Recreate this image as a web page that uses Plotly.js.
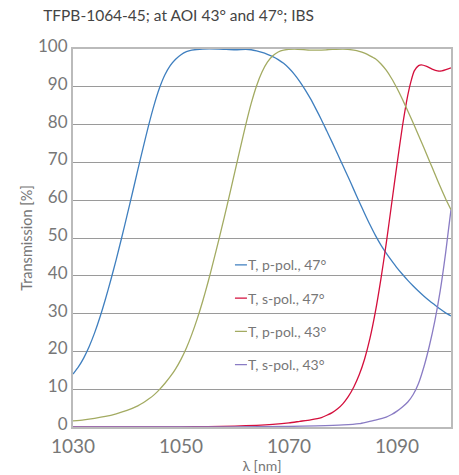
<!DOCTYPE html>
<html><head><meta charset="utf-8">
<script src="https://cdn.plot.ly/plotly-3.0.1.min.js"></script>
<style>body{margin:0;background:#fff}#c{width:459px;height:475px}</style>
</head><body><div id="c"></div>
<script>
const bluePpol47X = [1030,1031,1032,1033,1034,1035,1036,1037,1038,1039,1040,1041,1042,1043,1044,1045,1046,1047,1048,1049,1050,1051,1052,1054,1057,1060,1062,1063,1064,1065,1066,1067,1068,1069,1070,1071,1072,1073,1074,1075,1076,1077,1078,1079,1080,1081,1082,1083,1084,1085,1086,1087,1088,1089,1090,1091,1092,1093,1094,1095,1096,1097,1098,1099,1100];
const bluePpol47Y = [14,15.9,18.3,21.3,24.9,29.1,33.8,38.9,44.3,50,55.9,61.9,68,74,79.8,85.1,89.6,93.1,95.6,97.3,98.5,99.3,99.7,100,100,99.8,99.9,99.8,99.5,99.1,98.6,98,97.2,96.2,94.9,93.3,91.4,89.2,86.8,84.1,81.3,78.3,75.3,72.2,69.1,66,62.8,59.6,56.5,53.5,50.7,48.2,46,44,42.1,40.4,38.8,37.3,35.9,34.6,33.4,32.3,31.2,30.2,29.4];
const redSpol47X = [1030,1040,1050,1055,1060,1064,1067,1070,1072,1074,1076,1077,1078,1079,1080,1081,1082,1083,1084,1085,1086,1087,1088,1089,1090,1091,1092,1092.6,1093.2,1094,1094.5,1095.5,1096.5,1097.5,1098.3,1099.2,1100];
const redSpol47Y = [0,0,0.05,0.1,0.25,0.45,0.7,1.1,1.5,1.9,2.5,3.1,3.8,4.8,6.2,8.1,10.6,13.8,18,23.5,30.5,39,48.5,59,69.5,79.5,87.8,91.5,94.2,95.6,95.8,95.4,94.7,94.2,94.2,94.6,95];
const greenPpol43X = [1030,1032,1034,1036,1038,1040,1042,1043,1044,1045,1046,1047,1048,1049,1050,1051,1052,1053,1054,1055,1056,1057,1058,1059,1060,1061,1062,1063,1064,1065,1066,1067,1068,1069,1071,1074,1077,1080,1082,1083,1084,1085,1086,1087,1088,1089,1090,1091,1092,1093,1094,1095,1096,1097,1098,1099,1100];
const greenPpol43Y = [1.6,1.9,2.3,2.8,3.5,4.4,5.6,6.4,7.4,8.5,9.9,11.5,13.3,15.4,17.9,20.9,24.5,28.6,33.2,38.3,43.8,49.5,55.4,61.5,67.7,73.9,80,85.6,90.3,93.9,96.5,98.2,99.2,99.7,100,99.7,99.8,100,99.7,99.4,98.9,98.2,97.4,96.1,94.4,92.2,89.6,86.7,83.6,80.4,77.1,73.8,70.4,67,63.6,60.4,57.5];
const purpleSpol43X = [1030,1060,1070,1075,1080,1083,1084.4,1086,1088,1089,1090,1091,1092,1093,1094,1095,1096,1097,1098,1099,1099.5,1100];
const purpleSpol43Y = [0,0.05,0.15,0.3,0.55,0.9,1.3,1.8,2.6,3.3,4.2,5.3,6.6,8.6,11.6,16,21.5,28,36,46,51.8,57.5];
const seriesNames = ["T, p-pol., 47°", "T, s-pol., 47°", "T, p-pol., 43°", "T, s-pol., 43°"];
const xTicks = [1030, 1050, 1070, 1090];
const yTicks = [0, 10, 20, 30, 40, 50, 60, 70, 80, 90, 100];

const colors = ["#3f7fbf", "#d40f3c", "#a3ab62", "#8a7cc4"];
const xs = [bluePpol47X, redSpol47X, greenPpol43X, purpleSpol43X];
const ys = [bluePpol47Y, redSpol47Y, greenPpol43Y, purpleSpol43Y];
const traces = xs.map((x, i) => ({
  x: x, y: ys[i], type: "scatter", mode: "lines", name: seriesNames[i],
  legendgroup: "g" + i,
  line: {color: colors[i], width: 1.3, shape: "spline", smoothing: 0.6}
}));
const fontFam = "Lato, 'Open Sans', sans-serif";
const layout = {
  width: 459, height: 475,
  margin: {l: 73, r: 8, t: 49, b: 48},
  paper_bgcolor: "#fff", plot_bgcolor: "#fff",
  font: {family: fontFam, color: "#707070"},
  title: {text: "TFPB-1064-45; at AOI 43° and 47°; IBS", x: 0.094, xanchor: "left", y: 0.968, yanchor: "middle",
          font: {family: fontFam, size: 15.5, color: "#444"}},
  xaxis: {range: [1030, 1100], tickvals: xTicks, ticks: "", showgrid: false, zeroline: false,
          showline: true, linecolor: "#bbb", linewidth: 2, mirror: true,
          tickfont: {size: 19, color: "#777"}, ticklabelstandoff: 1,
          title: {text: "λ [nm]", font: {size: 14, color: "#777"}, standoff: 3}},
  yaxis: {range: [0, 100], tickvals: yTicks, ticks: "", showgrid: true, gridcolor: "#9a9a9a", gridwidth: 1,
          zeroline: false, showline: true, linecolor: "#bbb", linewidth: 2, mirror: true,
          tickfont: {size: 17, color: "#777"}, ticklabelshift: -3,
          title: {text: "Transmission [%]", font: {size: 14.5, color: "#777"}, standoff: 2}},
  showlegend: true,
  legend: {x: 0.357, y: 0.47, xanchor: "left", yanchor: "top", bgcolor: "rgba(0,0,0,0)", borderwidth: 0,
           font: {size: 14, color: "#777"}, traceorder: "grouped", tracegroupgap: 12, itemwidth: 30}
};
Plotly.newPlot("c", traces, layout, {displayModeBar: false, staticPlot: true}).then(() => {
  document.querySelectorAll("#c .legendlines path").forEach(p => p.setAttribute("d", "M27,0h12"));
});
</script></body></html>
